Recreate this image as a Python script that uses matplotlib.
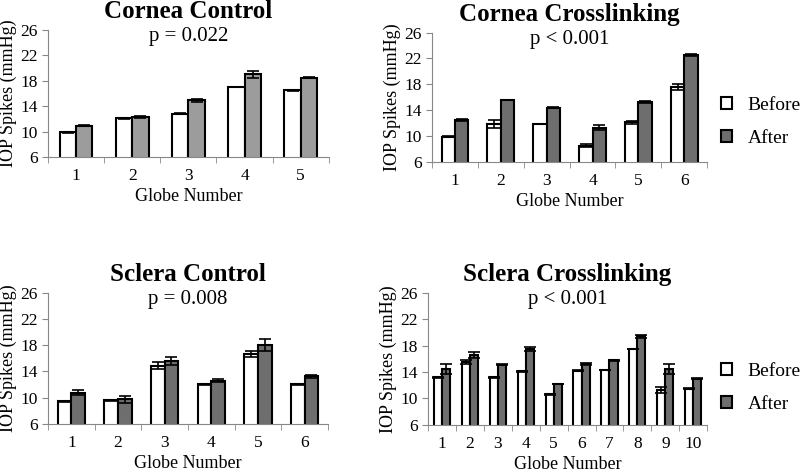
import numpy as np
import matplotlib
matplotlib.use("Agg")
from matplotlib import pyplot as plt

plt.rcParams['font.family'] = ['Liberation Serif', 'DejaVu Serif']

# Cornea Control
cc_before = [9.9, 12.1, 12.8, 17.0, 16.5]
cc_before_err = [0.08, 0.05, 0.1, 0.05, 0.1]
cc_after = [10.9, 12.3, 14.9, 19.0, 18.5]
cc_after_err = [0.1, 0.2, 0.25, 0.55, 0.15]

# Cornea Crosslinking
cx_before = [9.9, 11.9, 11.85, 8.5, 12.1, 17.6]
cx_before_err = [0.05, 0.6, 0.05, 0.25, 0.2, 0.45]
cx_after = [12.5, 15.6, 14.4, 11.3, 15.3, 22.6]
cx_after_err = [0.2, 0.0, 0.1, 0.35, 0.15, 0.15]

# Sclera Control
sc_before = [9.45, 9.6, 14.85, 12.05, 16.65, 12.05]
sc_before_err = [0.05, 0.05, 0.55, 0.05, 0.45, 0.05]
sc_after = [10.75, 9.75, 15.6, 12.6, 18.05, 13.25]
sc_after_err = [0.4, 0.5, 0.6, 0.2, 0.95, 0.25]

# Sclera Crosslinking
sx_before = [13.2, 15.45, 13.2, 14.1, 10.6, 14.2, 14.3, 17.5, 11.2, 11.45]
sx_before_err = [0.1, 0.3, 0.1, 0.05, 0.05, 0.1, 0.05, 0.05, 0.45, 0.1]
sx_after = [14.45, 16.55, 15.1, 17.5, 12.2, 15.2, 15.75, 19.4, 14.4, 13.0]
sx_after_err = [0.8, 0.5, 0.1, 0.25, 0.05, 0.1, 0.05, 0.2, 0.75, 0.05]

panels = [
    ("Cornea Control", "p = 0.022", cc_before, cc_before_err, cc_after, cc_after_err,
     [0.060, 0.668, 0.351, 0.269], "#9c9c9c", None),
    ("Cornea Crosslinking", "p < 0.001", cx_before, cx_before_err, cx_after, cx_after_err,
     [0.540, 0.658, 0.344, 0.273], "#6e6e6e", 0.31),
    ("Sclera Control", "p = 0.008", sc_before, sc_before_err, sc_after, sc_after_err,
     [0.060, 0.104, 0.350, 0.277], "#6e6e6e", None),
    ("Sclera Crosslinking", "p < 0.001", sx_before, sx_before_err, sx_after, sx_after_err,
     [0.535, 0.102, 0.349, 0.279], "#6e6e6e", 0.28),
]

fig = plt.figure(figsize=(8, 4.73), dpi=100)
w = 0.29
for title, ptxt, b, be, a, ae, pos, col, leg in panels:
    ax = fig.add_axes(pos)
    x = np.arange(1, len(b) + 1)
    ax.bar(x - w / 2, b, w, color="white", edgecolor="black", linewidth=1.5,
           yerr=be, capsize=4, error_kw=dict(elinewidth=1.2, capthick=1.2), label="Before")
    ax.bar(x + w / 2, a, w, color=col, edgecolor="black", linewidth=1.5,
           yerr=ae, capsize=4, error_kw=dict(elinewidth=1.2, capthick=1.2), label="After")
    ax.set_ylim(6, 26)
    ax.set_yticks([6, 10, 14, 18, 22, 26])
    ax.set_xlim(0.5, len(b) + 0.5)
    ax.set_xticks(x)
    ax.set_xticks(np.arange(0.5, len(b) + 1), minor=True)
    ax.tick_params(axis="x", which="major", length=0, labelsize=12.5, pad=8)
    ax.tick_params(axis="x", which="minor", length=4, color="#888888", direction="out")
    ax.tick_params(axis="y", length=4, color="#888888", labelsize=12.5)
    for s in ["top", "right"]:
        ax.spines[s].set_visible(False)
    for s in ["left", "bottom"]:
        ax.spines[s].set_color("#888888")
    ax.set_xlabel("Globe Number", fontsize=13, labelpad=3)
    ax.set_ylabel("IOP Spikes (mmHg)", fontsize=13, labelpad=2)
    ax.annotate(title, xy=(0.5, 1.0), xycoords="axes fraction", xytext=(0, 13),
                textcoords="offset points", ha="center", va="center",
                fontsize=18, fontweight="bold")
    ax.annotate(ptxt, xy=(0.5, 1.0), xycoords="axes fraction", xytext=(0, -5),
                textcoords="offset points", ha="center", va="center", fontsize=15)
    if leg is not None:
        ax.legend(loc="center left", bbox_to_anchor=(0.985, leg), frameon=False, fontsize=14,
                  handlelength=0.6, handleheight=0.6, labelspacing=0.8)

fig.savefig("out.png", dpi=100)
